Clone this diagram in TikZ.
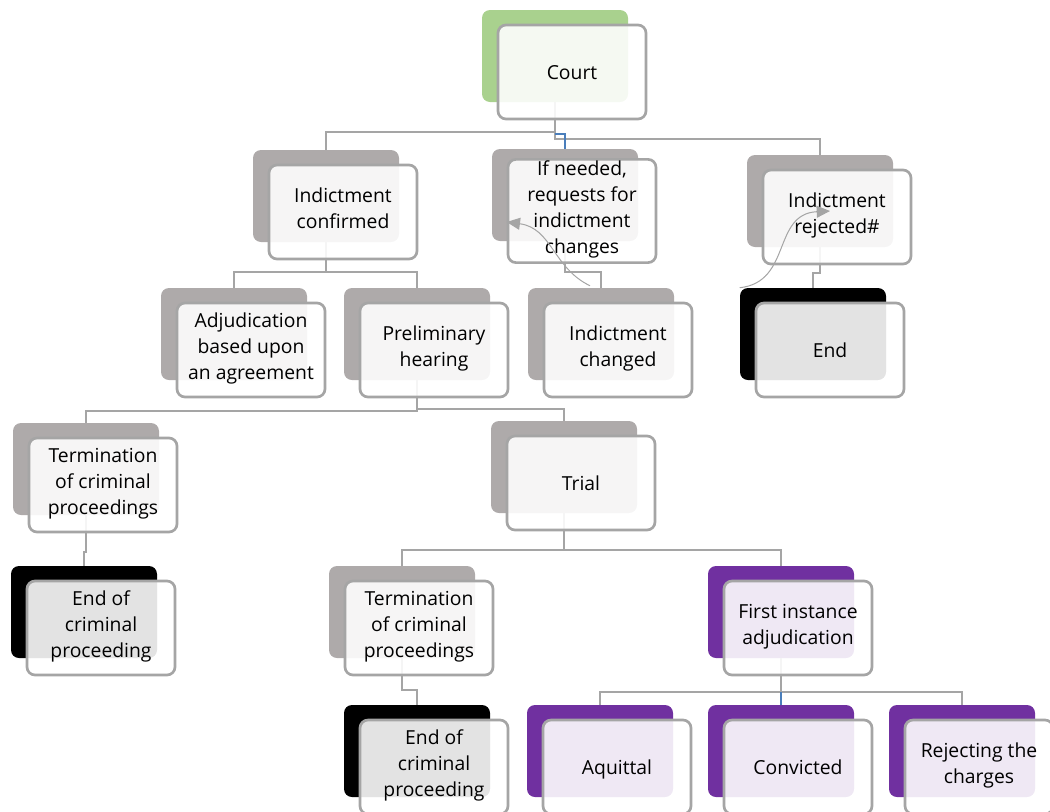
\documentclass[tikz,border=0pt]{standalone}
\usepackage{fontspec}
\setmainfont{Open Sans}
\usetikzlibrary{arrows.meta}

\definecolor{backgray}{HTML}{AEAAAA}
\definecolor{backgreen}{HTML}{A9D18E}
\definecolor{backpurple}{HTML}{7030A0}
\definecolor{linegray}{HTML}{A5A5A5}
\definecolor{lineblue}{HTML}{4A7EBB}

\newcommand\platestrut{\rule[-5.85pt]{0pt}{23.3pt}}

\tikzset{
	back/.style={rounded corners=6pt, minimum width=109.5pt, minimum height=69pt, inner sep=0pt},
	front/.style={rounded corners=6pt, draw=linegray, line width=2pt, fill=white, fill opacity=0.89, text opacity=1, minimum width=111pt, minimum height=70.5pt, inner sep=1pt, align=center, font=\fontsize{14.5}{19.5}\selectfont, execute at begin node=\platestrut, execute at end node=\platestrut},
	link/.style={draw=linegray, line width=1.6pt},
	linkblue/.style={draw=lineblue, line width=1.6pt},
	loop arrow/.style={draw=linegray, line width=0.75pt, -{Triangle[length=10pt,width=9pt]}}
}

\begin{document}
\begin{tikzpicture}[x={(0.75pt,0)}, y={(0,-0.75pt)}]
		\clip (0,0) rectangle (1050,811);
		% coloured back plates
		\node[back, fill=backgreen]  (court-b)     at (555,56)  {};
		\node[back, fill=backgray]   (confirmed-b) at (326,196) {};
		\node[back, fill=backgray]   (request-b)   at (565,195) {};
		\node[back, fill=backgray]   (rejected-b)  at (820,201) {};
		\node[back, fill=black]      (end-b)       at (813,334) {};
		\node[back, fill=backgray]   (agreement-b) at (234,334) {};
		\node[back, fill=backgray]   (hearing-b)   at (417,334) {};
		\node[back, fill=backgray]   (changed-b)   at (601,334) {};
		\node[back, fill=backgray]   (termleft-b)  at (86,469)  {};
		\node[back, fill=backgray]   (trial-b)     at (564,467) {};
		\node[back, fill=black]      (endleft-b)   at (84,612)  {};
		\node[back, fill=backgray]   (termmid-b)   at (402,612) {};
		\node[back, fill=black]      (endmid-b)    at (417,751) {};
		\node[back, fill=backpurple] (first-b)     at (781,612) {};
		\node[back, fill=backpurple] (aquittal-b)  at (600,751) {};
		\node[back, fill=backpurple] (convicted-b) at (781,751) {};
		\node[back, fill=backpurple] (rejecting-b) at (962,751) {};
		% connectors
		\draw[link] (court-b.south) -- ++(0,30) -| (confirmed-b.north);
		\draw[link] (court-b.south) -- ++(0,37) -| (rejected-b.north);
		\draw[linkblue] (court-b.south) ++(0,32) -| (request-b.north);
		\draw[link] (confirmed-b.south) -- ++(0,30) -| (agreement-b.north);
		\draw[link] (confirmed-b.south) -- ++(0,30) -| (hearing-b.north);
		\draw[link] (request-b.south) -- ++(0,31) -| (changed-b.north);
		\draw[link] (rejected-b.south) -- ++(0,26) -| (end-b.north);
		\draw[link] (hearing-b.south) -- ++(0,31) -| (termleft-b.north);
		\draw[link] (hearing-b.south) -- ++(0,29) -| (trial-b.north);
		\draw[link] (termleft-b.south) -- ++(0,37) -| (endleft-b.north);
		\draw[link] (trial-b.south) -- ++(0,37) -| (termmid-b.north);
		\draw[link] (trial-b.south) -- ++(0,37) -| (first-b.north);
		\draw[link] (termmid-b.south) -- ++(0,32) -| (endmid-b.north);
		\draw[link] (first-b.south) -- ++(0,34) -| (aquittal-b.north);
		\draw[link] (first-b.south) -- ++(0,34) -| (rejecting-b.north);
		\draw[linkblue] (first-b.south) ++(0,34) -- (convicted-b.north);
		% white front plates
		\node[front] (court)     at ([shift={(17,16)}]court-b)     {Court};
		\node[front] (confirmed) at ([shift={(17,16)}]confirmed-b) {Indictment\\confirmed};
		\node[front] (request)   at ([shift={(17,16)}]request-b)   {If needed,\\requests for\\indictment\\changes};
		\node[front] (rejected)  at ([shift={(17,16)}]rejected-b)  {Indictment\\rejected\#};
		\node[front] (end)       at ([shift={(17,16)}]end-b)       {End};
		\node[front] (agreement) at ([shift={(17,16)}]agreement-b) {Adjudication\\based upon\\an agreement};
		\node[front] (hearing)   at ([shift={(17,16)}]hearing-b)   {Preliminary\\hearing};
		\node[front] (changed)   at ([shift={(17,16)}]changed-b)   {Indictment\\changed};
		\node[front] (termleft)  at ([shift={(17,16)}]termleft-b)  {Termination\\of criminal\\proceedings};
		\node[front] (trial)     at ([shift={(17,16)}]trial-b)     {Trial};
		\node[front] (endleft)   at ([shift={(17,16)}]endleft-b)   {End of\\criminal\\proceeding};
		\node[front] (termmid)   at ([shift={(17,16)}]termmid-b)   {Termination\\of criminal\\proceedings};
		\node[front] (endmid)    at ([shift={(17,16)}]endmid-b)    {End of\\criminal\\proceeding};
		\node[front] (first)     at ([shift={(17,16)}]first-b)     {First instance\\adjudication};
		\node[front] (aquittal)  at ([shift={(17,16)}]aquittal-b)  {Aquittal};
		\node[front] (convicted) at ([shift={(17,16)}]convicted-b) {Convicted};
		\node[front] (rejecting) at ([shift={(17,16)}]rejecting-b) {Rejecting the\\charges};
		% curved arrows
		\draw[loop arrow] ([shift={(-11,-2)}]changed-b.north) .. controls (553,268) and (552,228) .. ([shift={(0,11)}]request.west);
		\draw[loop arrow] (end-b.north west) .. controls (792,282) and (772,214) .. ([shift={(-7,-6)}]rejected.center);
	\end{tikzpicture}
\end{document}
